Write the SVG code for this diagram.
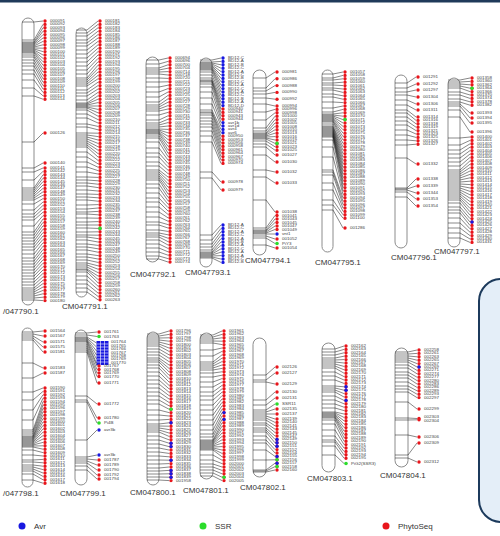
<svg xmlns="http://www.w3.org/2000/svg" width="500" height="536" viewBox="0 0 500 536">
<style>
.bar{fill:#fff;stroke:#8c8c8c;stroke-width:1}
.cn{fill:none;stroke:#111;stroke-width:.5}
.dr,.db,.dg{stroke-width:3.4;stroke-linecap:round;stroke-dasharray:0 3.4}
.dr{stroke:#e8151b}.db{stroke:#1818e0}.dg{stroke:#2bdc2b}
.r{fill:#e8151b}.b{fill:#1818e0}.g{fill:#2bdc2b}
.t{font-family:"Liberation Sans",Arial,sans-serif;font-size:3px;fill:#444}
.lb{font-family:"Liberation Sans",Arial,sans-serif;font-size:8px;fill:#333}
.lg{font-family:"Liberation Sans",Arial,sans-serif;font-size:8px;fill:#333}
</style>
<rect x="0" y="0" width="500" height="2.5" fill="#1f3a5a"/>
<rect x="479" y="279" width="45" height="243" rx="22" fill="#e4eef8" stroke="#1c3a5c" stroke-width="2"/>

<g id="c1">
<rect class="bar" x="22" y="18" width="12" height="287" rx="6"/>
<line class="dr" x1="45" y1="21" x2="45" y2="99.3"/>
<circle class="r" cx="45" cy="133" r="1.7"/><circle class="r" cx="45" cy="163" r="1.7"/>
<line class="dr" x1="45" y1="168" x2="45" y2="300.7"/>
<text class="t" transform="translate(50 0) scale(1.5 1)"><tspan x="0" y="22.1">000091</tspan><tspan x="0" dy="3.4">000092</tspan><tspan x="0" dy="3.4">000093</tspan><tspan x="0" dy="3.4">000094</tspan><tspan x="0" dy="3.4">000095</tspan><tspan x="0" dy="3.4">000096</tspan><tspan x="0" dy="3.4">000097</tspan><tspan x="0" dy="3.4">000098</tspan><tspan x="0" dy="3.4">000099</tspan><tspan x="0" dy="3.4">000100</tspan><tspan x="0" dy="3.4">000101</tspan><tspan x="0" dy="3.4">000102</tspan><tspan x="0" dy="3.4">000103</tspan><tspan x="0" dy="3.4">000104</tspan><tspan x="0" dy="3.4">000105</tspan><tspan x="0" dy="3.4">000106</tspan><tspan x="0" dy="3.4">000107</tspan><tspan x="0" dy="3.4">000108</tspan><tspan x="0" dy="3.4">000109</tspan><tspan x="0" dy="3.4">000110</tspan><tspan x="0" dy="3.4">000111</tspan><tspan x="0" dy="3.4">000112</tspan><tspan x="0" dy="3.4">000113</tspan><tspan x="0" dy="3.4">000114</tspan>
<tspan x="0" y="134.1">000126</tspan><tspan x="0" y="164.1">000140</tspan>
<tspan x="0" y="169.1">000141</tspan><tspan x="0" dy="3.4">000142</tspan><tspan x="0" dy="3.4">000143</tspan><tspan x="0" dy="3.4">000144</tspan><tspan x="0" dy="3.4">000145</tspan><tspan x="0" dy="3.4">000146</tspan><tspan x="0" dy="3.4">000147</tspan><tspan x="0" dy="3.4">000148</tspan><tspan x="0" dy="3.4">000149</tspan><tspan x="0" dy="3.4">000150</tspan><tspan x="0" dy="3.4">000151</tspan><tspan x="0" dy="3.4">000152</tspan><tspan x="0" dy="3.4">000153</tspan><tspan x="0" dy="3.4">000154</tspan><tspan x="0" dy="3.4">000155</tspan><tspan x="0" dy="3.4">000156</tspan><tspan x="0" dy="3.4">000157</tspan><tspan x="0" dy="3.4">000158</tspan><tspan x="0" dy="3.4">000159</tspan><tspan x="0" dy="3.4">000160</tspan><tspan x="0" dy="3.4">000161</tspan><tspan x="0" dy="3.4">000162</tspan><tspan x="0" dy="3.4">000163</tspan><tspan x="0" dy="3.4">000164</tspan><tspan x="0" dy="3.4">000165</tspan><tspan x="0" dy="3.4">000166</tspan><tspan x="0" dy="3.4">000167</tspan><tspan x="0" dy="3.4">000168</tspan><tspan x="0" dy="3.4">000169</tspan><tspan x="0" dy="3.4">000170</tspan><tspan x="0" dy="3.4">000171</tspan><tspan x="0" dy="3.4">000172</tspan><tspan x="0" dy="3.4">000173</tspan><tspan x="0" dy="3.4">000174</tspan><tspan x="0" dy="3.4">000175</tspan><tspan x="0" dy="3.4">000176</tspan><tspan x="0" dy="3.4">000177</tspan><tspan x="0" dy="3.4">000178</tspan><tspan x="0" dy="3.4">000179</tspan><tspan x="0" dy="3.4">000180</tspan></text>
<text class="lb" x="3" y="314">/047790.1</text>
</g>

<g id="c2">
<rect class="bar" x="76" y="28" width="11" height="269" rx="5.5"/>
<line class="dr" x1="100" y1="21" x2="100" y2="299.9"/>
<circle class="g" cx="100" cy="228.4" r="1.8"/>
<text class="t" transform="translate(105 0) scale(1.5 1)"><tspan x="0" y="22.1">000181</tspan><tspan x="0" dy="3.4">000182</tspan><tspan x="0" dy="3.4">000183</tspan><tspan x="0" dy="3.4">000184</tspan><tspan x="0" dy="3.4">000185</tspan><tspan x="0" dy="3.4">000186</tspan><tspan x="0" dy="3.4">000187</tspan><tspan x="0" dy="3.4">000188</tspan><tspan x="0" dy="3.4">000189</tspan><tspan x="0" dy="3.4">000190</tspan><tspan x="0" dy="3.4">000191</tspan><tspan x="0" dy="3.4">000192</tspan><tspan x="0" dy="3.4">000193</tspan><tspan x="0" dy="3.4">000194</tspan><tspan x="0" dy="3.4">000195</tspan><tspan x="0" dy="3.4">000196</tspan><tspan x="0" dy="3.4">000197</tspan><tspan x="0" dy="3.4">000198</tspan><tspan x="0" dy="3.4">000199</tspan><tspan x="0" dy="3.4">000200</tspan><tspan x="0" dy="3.4">000201</tspan><tspan x="0" dy="3.4">000202</tspan><tspan x="0" dy="3.4">000203</tspan><tspan x="0" dy="3.4">000204</tspan><tspan x="0" dy="3.4">000205</tspan><tspan x="0" dy="3.4">000206</tspan><tspan x="0" dy="3.4">000207</tspan><tspan x="0" dy="3.4">000208</tspan><tspan x="0" dy="3.4">000209</tspan><tspan x="0" dy="3.4">000210</tspan><tspan x="0" dy="3.4">000211</tspan><tspan x="0" dy="3.4">000212</tspan><tspan x="0" dy="3.4">000213</tspan><tspan x="0" dy="3.4">000214</tspan><tspan x="0" dy="3.4">000215</tspan><tspan x="0" dy="3.4">000216</tspan><tspan x="0" dy="3.4">000217</tspan><tspan x="0" dy="3.4">000218</tspan><tspan x="0" dy="3.4">000219</tspan><tspan x="0" dy="3.4">000220</tspan><tspan x="0" dy="3.4">000221</tspan><tspan x="0" dy="3.4">000222</tspan><tspan x="0" dy="3.4">000223</tspan><tspan x="0" dy="3.4">000224</tspan><tspan x="0" dy="3.4">000225</tspan><tspan x="0" dy="3.4">000226</tspan><tspan x="0" dy="3.4">000227</tspan><tspan x="0" dy="3.4">000228</tspan><tspan x="0" dy="3.4">000229</tspan><tspan x="0" dy="3.4">000230</tspan><tspan x="0" dy="3.4">000231</tspan><tspan x="0" dy="3.4">000232</tspan><tspan x="0" dy="3.4">000233</tspan><tspan x="0" dy="3.4">000234</tspan><tspan x="0" dy="3.4">000235</tspan><tspan x="0" dy="3.4">000236</tspan><tspan x="0" dy="3.4">000237</tspan><tspan x="0" dy="3.4">000238</tspan><tspan x="0" dy="3.4">000239</tspan><tspan x="0" dy="3.4">000240</tspan><tspan x="0" dy="3.4">000241</tspan><tspan x="0" dy="3.4">000242</tspan><tspan x="0" dy="3.4">000243</tspan><tspan x="0" dy="3.4">000244</tspan><tspan x="0" dy="3.4">000245</tspan><tspan x="0" dy="3.4">000246</tspan><tspan x="0" dy="3.4">000247</tspan><tspan x="0" dy="3.4">000248</tspan><tspan x="0" dy="3.4">000249</tspan><tspan x="0" dy="3.4">000250</tspan><tspan x="0" dy="3.4">000251</tspan><tspan x="0" dy="3.4">000252</tspan><tspan x="0" dy="3.4">000253</tspan><tspan x="0" dy="3.4">000254</tspan><tspan x="0" dy="3.4">000255</tspan><tspan x="0" dy="3.4">000256</tspan><tspan x="0" dy="3.4">000257</tspan><tspan x="0" dy="3.4">000258</tspan><tspan x="0" dy="3.4">000259</tspan><tspan x="0" dy="3.4">000260</tspan><tspan x="0" dy="3.4">000261</tspan><tspan x="0" dy="3.4">000262</tspan><tspan x="0" dy="3.4">000263</tspan></text>
<text class="lb" x="62" y="309">CM047791.1</text>
</g>

<g id="c3">
<rect class="bar" x="146" y="57" width="13" height="205" rx="6.5"/>
<line class="dr" x1="170" y1="58" x2="170" y2="262.1"/>
<text class="t" transform="translate(175 0) scale(1.5 1)"><tspan x="0" y="59.1">000694</tspan><tspan x="0" dy="3.4">000696</tspan><tspan x="0" dy="3.4">000700</tspan><tspan x="0" dy="3.4">000704</tspan><tspan x="0" dy="3.4">000714</tspan><tspan x="0" dy="3.4">000718</tspan><tspan x="0" dy="3.4">000720</tspan><tspan x="0" dy="3.4">000721</tspan><tspan x="0" dy="3.4">000722</tspan><tspan x="0" dy="3.4">000723</tspan><tspan x="0" dy="3.4">000724</tspan><tspan x="0" dy="3.4">000725</tspan><tspan x="0" dy="3.4">000726</tspan><tspan x="0" dy="3.4">000727</tspan><tspan x="0" dy="3.4">000728</tspan><tspan x="0" dy="3.4">000729</tspan><tspan x="0" dy="3.4">000730</tspan><tspan x="0" dy="3.4">000731</tspan><tspan x="0" dy="3.4">000732</tspan><tspan x="0" dy="3.4">000733</tspan><tspan x="0" dy="3.4">000734</tspan><tspan x="0" dy="3.4">000735</tspan><tspan x="0" dy="3.4">000736</tspan><tspan x="0" dy="3.4">000737</tspan><tspan x="0" dy="3.4">000738</tspan><tspan x="0" dy="3.4">000739</tspan><tspan x="0" dy="3.4">000740</tspan><tspan x="0" dy="3.4">000741</tspan><tspan x="0" dy="3.4">000742</tspan><tspan x="0" dy="3.4">000743</tspan><tspan x="0" dy="3.4">000744</tspan><tspan x="0" dy="3.4">000745</tspan><tspan x="0" dy="3.4">000746</tspan><tspan x="0" dy="3.4">000747</tspan><tspan x="0" dy="3.4">000748</tspan><tspan x="0" dy="3.4">000749</tspan><tspan x="0" dy="3.4">000750</tspan><tspan x="0" dy="3.4">000751</tspan><tspan x="0" dy="3.4">000752</tspan><tspan x="0" dy="3.4">000753</tspan><tspan x="0" dy="3.4">000754</tspan><tspan x="0" dy="3.4">000755</tspan><tspan x="0" dy="3.4">000756</tspan><tspan x="0" dy="3.4">000757</tspan><tspan x="0" dy="3.4">000758</tspan><tspan x="0" dy="3.4">000759</tspan><tspan x="0" dy="3.4">000760</tspan><tspan x="0" dy="3.4">000761</tspan><tspan x="0" dy="3.4">000762</tspan><tspan x="0" dy="3.4">000763</tspan><tspan x="0" dy="3.4">000764</tspan><tspan x="0" dy="3.4">000765</tspan><tspan x="0" dy="3.4">000766</tspan><tspan x="0" dy="3.4">000767</tspan><tspan x="0" dy="3.4">000768</tspan><tspan x="0" dy="3.4">000769</tspan><tspan x="0" dy="3.4">000770</tspan><tspan x="0" dy="3.4">000771</tspan><tspan x="0" dy="3.4">000772</tspan><tspan x="0" dy="3.4">000773</tspan><tspan x="0" dy="3.4">000774</tspan></text>
<text class="lb" x="130" y="277">CM047792.1</text>
</g>

<g id="c4">
<rect class="bar" x="200" y="58" width="12" height="209" rx="6"/>
<line class="db" x1="223" y1="58" x2="223" y2="105.7"/>
<line class="dr" x1="223" y1="109" x2="223" y2="119.3"/>
<line class="db" x1="223" y1="122.6" x2="223" y2="132.9"/>
<line class="dr" x1="223" y1="136.2" x2="223" y2="163.5"/>
<circle class="r" cx="223" cy="182" r="1.7"/><circle class="r" cx="223" cy="190" r="1.7"/>
<line class="db" x1="223" y1="225" x2="223" y2="262.5"/>
<text class="t" transform="translate(228 0) scale(1.5 1)"><tspan x="0" y="59.1">BD12-C</tspan><tspan x="0" dy="3.4">BD12-A</tspan><tspan x="0" dy="3.4">BD12-B</tspan><tspan x="0" dy="3.4">BD12-C</tspan><tspan x="0" dy="3.4">BD12-A</tspan><tspan x="0" dy="3.4">BD12-C</tspan><tspan x="0" dy="3.4">BD12-B</tspan><tspan x="0" dy="3.4">BD12-C</tspan><tspan x="0" dy="3.4">BD12-A</tspan><tspan x="0" dy="3.4">BD12-C</tspan><tspan x="0" dy="3.4">BD12-A</tspan><tspan x="0" dy="3.4">BD12-C</tspan><tspan x="0" dy="3.4">BD12-B</tspan><tspan x="0" dy="3.4">BD12-A</tspan><tspan x="0" dy="3.4">BD12-D</tspan><tspan x="0" dy="3.4">000940</tspan><tspan x="0" dy="3.4">000941</tspan><tspan x="0" dy="3.4">000943</tspan><tspan x="0" dy="3.4">000944</tspan><tspan x="0" dy="3.4">avr1b</tspan><tspan x="0" dy="3.4">avr1d</tspan><tspan x="0" dy="3.4">avr4</tspan><tspan x="0" dy="3.4">avr6</tspan><tspan x="0" dy="3.4">000950</tspan><tspan x="0" dy="3.4">000953</tspan><tspan x="0" dy="3.4">000956</tspan><tspan x="0" dy="3.4">000958</tspan><tspan x="0" dy="3.4">000961</tspan><tspan x="0" dy="3.4">000964</tspan><tspan x="0" dy="3.4">000967</tspan><tspan x="0" dy="3.4">000970</tspan><tspan x="0" dy="3.4">000974</tspan>
<tspan x="0" y="183.1">000978</tspan><tspan x="0" y="191.1">000979</tspan>
<tspan x="0" y="226.1">BD12-A</tspan><tspan x="0" dy="3.4">BD12-C</tspan><tspan x="0" dy="3.4">BD12-A</tspan><tspan x="0" dy="3.4">BD12-C</tspan><tspan x="0" dy="3.4">BD12-A</tspan><tspan x="0" dy="3.4">BD12-B</tspan><tspan x="0" dy="3.4">BD12-A</tspan><tspan x="0" dy="3.4">BD12-C</tspan><tspan x="0" dy="3.4">BD12-A</tspan><tspan x="0" dy="3.4">BD12-A</tspan><tspan x="0" dy="3.4">BD12-C</tspan><tspan x="0" dy="3.4">BD12-B</tspan></text>
<text class="lb" x="185" y="275">CM047793.1</text>
</g>

<g id="c5">
<rect class="bar" x="253" y="70" width="13" height="185" rx="6.5"/>
<circle class="r" cx="277" cy="72" r="1.7"/><circle class="r" cx="277" cy="78.8" r="1.7"/><circle class="r" cx="277" cy="85.6" r="1.7"/><circle class="r" cx="277" cy="92.4" r="1.7"/><circle class="r" cx="277" cy="99.2" r="1.7"/>
<line class="dr" x1="277" y1="106" x2="277" y2="150.3"/>
<circle class="g" cx="277" cy="143.4" r="1.8"/>
<circle class="r" cx="277" cy="155" r="1.7"/><circle class="r" cx="277" cy="162" r="1.7"/><circle class="r" cx="277" cy="172" r="1.7"/><circle class="r" cx="277" cy="183" r="1.7"/>
<circle class="r" cx="277" cy="212" r="1.7"/><circle class="r" cx="277" cy="215.5" r="1.7"/><circle class="r" cx="277" cy="219" r="1.7"/><circle class="r" cx="277" cy="222.5" r="1.7"/><circle class="r" cx="277" cy="226" r="1.7"/><circle class="r" cx="277" cy="229.5" r="1.7"/><circle class="b" cx="277" cy="234" r="1.7"/><circle class="r" cx="277" cy="239" r="1.7"/><circle class="g" cx="277" cy="243.5" r="1.8"/><circle class="r" cx="277" cy="248" r="1.7"/>
<text class="t" transform="translate(282 0) scale(1.5 1)"><tspan x="0" y="73.1">000981</tspan><tspan x="0" y="79.9">000986</tspan><tspan x="0" y="86.7">000988</tspan><tspan x="0" y="93.5">000990</tspan><tspan x="0" y="100.3">000992</tspan>
<tspan x="0" y="107.1">000994</tspan><tspan x="0" dy="3.4">000996</tspan><tspan x="0" dy="3.4">000998</tspan><tspan x="0" dy="3.4">001000</tspan><tspan x="0" dy="3.4">001002</tspan><tspan x="0" dy="3.4">001005</tspan><tspan x="0" dy="3.4">001008</tspan><tspan x="0" dy="3.4">001010</tspan><tspan x="0" dy="3.4">001013</tspan><tspan x="0" dy="3.4">001016</tspan><tspan x="0" dy="3.4">001019</tspan><tspan x="0" dy="3.4">001021</tspan><tspan x="0" dy="3.4">001023</tspan><tspan x="0" dy="3.4">001025</tspan>
<tspan x="0" y="156.1">001027</tspan><tspan x="0" y="163.1">001030</tspan><tspan x="0" y="173.1">001032</tspan><tspan x="0" y="184.1">001033</tspan>
<tspan x="0" y="213.1">001038</tspan><tspan x="0" y="216.6">001041</tspan><tspan x="0" y="220.1">001043</tspan><tspan x="0" y="223.6">001045</tspan><tspan x="0" y="227.1">001047</tspan><tspan x="0" y="230.6">001049</tspan><tspan x="0" y="235.1">vnt1</tspan><tspan x="0" y="240.1">001052</tspan><tspan x="0" y="244.6">PiY3</tspan><tspan x="0" y="249.1">001054</tspan></text>
<text class="lb" x="245" y="263">CM047794.1</text>
</g>

<g id="c6">
<rect class="bar" x="322" y="70" width="11" height="182" rx="5.5"/>
<line class="dr" x1="345" y1="72" x2="345" y2="218.3"/>
<circle class="g" cx="345" cy="119.6" r="1.8"/>
<circle class="r" cx="345" cy="228" r="1.7"/>
<text class="t" transform="translate(350 0) scale(1.5 1)"><tspan x="0" y="73.1">001057</tspan><tspan x="0" dy="3.4">001058</tspan><tspan x="0" dy="3.4">001059</tspan><tspan x="0" dy="3.4">001060</tspan><tspan x="0" dy="3.4">001061</tspan><tspan x="0" dy="3.4">001062</tspan><tspan x="0" dy="3.4">001063</tspan><tspan x="0" dy="3.4">001064</tspan><tspan x="0" dy="3.4">001065</tspan><tspan x="0" dy="3.4">001066</tspan><tspan x="0" dy="3.4">001067</tspan><tspan x="0" dy="3.4">001068</tspan><tspan x="0" dy="3.4">001069</tspan><tspan x="0" dy="3.4">001070</tspan><tspan x="0" dy="3.4">001071</tspan><tspan x="0" dy="3.4">001072</tspan><tspan x="0" dy="3.4">001073</tspan><tspan x="0" dy="3.4">001074</tspan><tspan x="0" dy="3.4">001075</tspan><tspan x="0" dy="3.4">001076</tspan><tspan x="0" dy="3.4">001077</tspan><tspan x="0" dy="3.4">001078</tspan><tspan x="0" dy="3.4">001079</tspan><tspan x="0" dy="3.4">001080</tspan><tspan x="0" dy="3.4">001081</tspan><tspan x="0" dy="3.4">001082</tspan><tspan x="0" dy="3.4">001083</tspan><tspan x="0" dy="3.4">001084</tspan><tspan x="0" dy="3.4">001085</tspan><tspan x="0" dy="3.4">001086</tspan><tspan x="0" dy="3.4">001087</tspan><tspan x="0" dy="3.4">001088</tspan><tspan x="0" dy="3.4">001089</tspan><tspan x="0" dy="3.4">001090</tspan><tspan x="0" dy="3.4">001091</tspan><tspan x="0" dy="3.4">001092</tspan><tspan x="0" dy="3.4">001093</tspan><tspan x="0" dy="3.4">001094</tspan><tspan x="0" dy="3.4">001095</tspan><tspan x="0" dy="3.4">001096</tspan><tspan x="0" dy="3.4">001097</tspan><tspan x="0" dy="3.4">001098</tspan><tspan x="0" dy="3.4">001099</tspan><tspan x="0" dy="3.4">001100</tspan><tspan x="0" y="229.1">001286</tspan></text>
<text class="lb" x="315" y="265">CM047795.1</text>
</g>

<g id="c7">
<rect class="bar" x="395" y="75" width="12" height="173" rx="6"/>
<circle class="r" cx="418" cy="77" r="1.7"/><circle class="r" cx="418" cy="84" r="1.7"/><circle class="r" cx="418" cy="90" r="1.7"/><circle class="r" cx="418" cy="97" r="1.7"/><circle class="r" cx="418" cy="104" r="1.7"/><circle class="r" cx="418" cy="110" r="1.7"/><circle class="r" cx="418" cy="117" r="1.7"/>
<line class="dr" x1="418" y1="120.4" x2="418" y2="144.3"/>
<circle class="r" cx="418" cy="164" r="1.7"/><circle class="r" cx="418" cy="179" r="1.7"/><circle class="r" cx="418" cy="186" r="1.7"/><circle class="r" cx="418" cy="193" r="1.7"/><circle class="r" cx="418" cy="199" r="1.7"/><circle class="r" cx="418" cy="206" r="1.7"/>
<text class="t" transform="translate(423 0) scale(1.5 1)"><tspan x="0" y="78.1">001291</tspan><tspan x="0" y="85.1">001292</tspan><tspan x="0" y="91.1">001297</tspan><tspan x="0" y="98.1">001304</tspan><tspan x="0" y="105.1">001306</tspan><tspan x="0" y="111.1">001311</tspan><tspan x="0" y="118.1">001314</tspan>
<tspan x="0" y="121.5">001316</tspan><tspan x="0" dy="3.4">001318</tspan><tspan x="0" dy="3.4">001319</tspan><tspan x="0" dy="3.4">001321</tspan><tspan x="0" dy="3.4">001323</tspan><tspan x="0" dy="3.4">001325</tspan><tspan x="0" dy="3.4">001326</tspan><tspan x="0" dy="3.4">001327</tspan>
<tspan x="0" y="165.1">001332</tspan><tspan x="0" y="180.1">001338</tspan><tspan x="0" y="187.1">001339</tspan><tspan x="0" y="194.1">001344</tspan><tspan x="0" y="200.1">001353</tspan><tspan x="0" y="207.1">001354</tspan></text>
<text class="lb" x="391" y="260">CM047796.1</text>
</g>

<g id="c8">
<rect class="bar" x="448" y="78" width="12" height="169" rx="6"/>
<line class="dr" x1="472" y1="78" x2="472" y2="105.3"/>
<circle class="g" cx="472" cy="88.2" r="1.8"/>
<circle class="r" cx="472" cy="113" r="1.7"/><circle class="r" cx="472" cy="118" r="1.7"/><circle class="r" cx="472" cy="123" r="1.7"/><circle class="r" cx="472" cy="132" r="1.7"/>
<line class="dr" x1="472" y1="137" x2="472" y2="242.5"/>
<circle class="b" cx="472" cy="222" r="1.7"/>
<text class="t" transform="translate(477 0) scale(1.5 1)"><tspan x="0" y="79.1">001358</tspan><tspan x="0" dy="3.4">001360</tspan><tspan x="0" dy="3.4">001362</tspan><tspan x="0" dy="3.4">001364</tspan><tspan x="0" dy="3.4">001366</tspan><tspan x="0" dy="3.4">001370</tspan><tspan x="0" dy="3.4">001374</tspan><tspan x="0" dy="3.4">001378</tspan><tspan x="0" dy="3.4">001382</tspan>
<tspan x="0" y="114.1">001393</tspan><tspan x="0" y="119.1">001394</tspan><tspan x="0" y="124.1">001395</tspan><tspan x="0" y="133.1">001396</tspan>
<tspan x="0" y="138.1">001400</tspan><tspan x="0" dy="3.4">001401</tspan><tspan x="0" dy="3.4">001402</tspan><tspan x="0" dy="3.4">001403</tspan><tspan x="0" dy="3.4">001404</tspan><tspan x="0" dy="3.4">001405</tspan><tspan x="0" dy="3.4">001406</tspan><tspan x="0" dy="3.4">001407</tspan><tspan x="0" dy="3.4">001408</tspan><tspan x="0" dy="3.4">001409</tspan><tspan x="0" dy="3.4">001410</tspan><tspan x="0" dy="3.4">001411</tspan><tspan x="0" dy="3.4">001412</tspan><tspan x="0" dy="3.4">001413</tspan><tspan x="0" dy="3.4">001414</tspan><tspan x="0" dy="3.4">001415</tspan><tspan x="0" dy="3.4">001416</tspan><tspan x="0" dy="3.4">001417</tspan><tspan x="0" dy="3.4">001418</tspan><tspan x="0" dy="3.4">001419</tspan><tspan x="0" dy="3.4">001420</tspan><tspan x="0" dy="3.4">001421</tspan><tspan x="0" dy="3.4">001422</tspan><tspan x="0" dy="3.4">001423</tspan><tspan x="0" dy="3.4">001424</tspan><tspan x="0" dy="3.4">001425</tspan><tspan x="0" dy="3.4">001426</tspan><tspan x="0" dy="3.4">001427</tspan><tspan x="0" dy="3.4">001428</tspan><tspan x="0" dy="3.4">001429</tspan><tspan x="0" dy="3.4">001430</tspan><tspan x="0" dy="3.4">001431</tspan></text>
<text class="lb" x="434" y="254">CM047797.1</text>
</g>

<g id="c9">
<rect class="bar" x="22" y="328" width="11" height="159" rx="5.5"/>
<circle class="r" cx="45" cy="331" r="1.7"/><circle class="r" cx="45" cy="336" r="1.7"/><circle class="r" cx="45" cy="342" r="1.7"/><circle class="r" cx="45" cy="347" r="1.7"/><circle class="r" cx="45" cy="352" r="1.7"/><circle class="r" cx="45" cy="368" r="1.7"/><circle class="r" cx="45" cy="373" r="1.7"/>
<line class="dr" x1="45" y1="388" x2="45" y2="483.3"/>
<text class="t" transform="translate(50 0) scale(1.5 1)"><tspan x="0" y="332.1">001564</tspan><tspan x="0" y="337.1">001567</tspan><tspan x="0" y="343.1">001571</tspan><tspan x="0" y="348.1">001575</tspan><tspan x="0" y="353.1">001581</tspan><tspan x="0" y="369.1">001583</tspan><tspan x="0" y="374.1">001587</tspan>
<tspan x="0" y="389.1">001590</tspan><tspan x="0" dy="3.4">001591</tspan><tspan x="0" dy="3.4">001592</tspan><tspan x="0" dy="3.4">001593</tspan><tspan x="0" dy="3.4">001594</tspan><tspan x="0" dy="3.4">001595</tspan><tspan x="0" dy="3.4">001596</tspan><tspan x="0" dy="3.4">001597</tspan><tspan x="0" dy="3.4">001598</tspan><tspan x="0" dy="3.4">001599</tspan><tspan x="0" dy="3.4">001600</tspan><tspan x="0" dy="3.4">001601</tspan><tspan x="0" dy="3.4">001602</tspan><tspan x="0" dy="3.4">001603</tspan><tspan x="0" dy="3.4">001604</tspan><tspan x="0" dy="3.4">001605</tspan><tspan x="0" dy="3.4">001606</tspan><tspan x="0" dy="3.4">001607</tspan><tspan x="0" dy="3.4">001608</tspan><tspan x="0" dy="3.4">001609</tspan><tspan x="0" dy="3.4">001610</tspan><tspan x="0" dy="3.4">001611</tspan><tspan x="0" dy="3.4">001612</tspan><tspan x="0" dy="3.4">001613</tspan><tspan x="0" dy="3.4">001614</tspan><tspan x="0" dy="3.4">001615</tspan><tspan x="0" dy="3.4">001616</tspan><tspan x="0" dy="3.4">001617</tspan><tspan x="0" dy="3.4">001618</tspan></text>
<text class="lb" x="3" y="496">/047798.1</text>
</g>

<g id="c10">
<rect class="bar" x="75" y="330" width="12" height="155" rx="6"/>
<circle class="r" cx="99" cy="332" r="1.7"/><circle class="g" cx="99" cy="336.5" r="1.8"/>
<rect x="96.5" y="341" width="12" height="24" fill="#1818e0"/>
<path d="M100.5 341V365M104.5 341V365M96.5 344H108.5M96.5 347H108.5M96.5 350H108.5M96.5 353H108.5M96.5 356H108.5M96.5 359H108.5M96.5 362H108.5" stroke="#fff" stroke-width=".6"/>
<circle class="r" cx="99" cy="366" r="1.7"/><circle class="r" cx="99" cy="369.5" r="1.7"/><circle class="r" cx="99" cy="373" r="1.7"/><circle class="r" cx="99" cy="376.5" r="1.7"/><circle class="r" cx="99" cy="383" r="1.7"/><circle class="r" cx="99" cy="404" r="1.7"/><circle class="r" cx="99" cy="418" r="1.7"/><circle class="g" cx="99" cy="423" r="1.8"/><circle class="b" cx="99" cy="430" r="1.7"/><circle class="b" cx="99" cy="455" r="1.7"/><circle class="r" cx="99" cy="460" r="1.7"/><circle class="r" cx="99" cy="465" r="1.7"/><circle class="r" cx="99" cy="470" r="1.7"/><circle class="r" cx="99" cy="475" r="1.7"/><circle class="r" cx="99" cy="479" r="1.7"/>
<text class="t" transform="translate(104 0) scale(1.5 1)"><tspan x="0" y="333.1">001761</tspan><tspan x="0" y="337.6">001763</tspan><tspan x="4.7" y="343.5">001764</tspan><tspan x="4.7" dy="3.4">001765</tspan><tspan x="4.7" dy="3.4">001766</tspan><tspan x="4.7" dy="3.4">001767</tspan><tspan x="4.7" dy="3.4">001768</tspan><tspan x="4.7" dy="3.4">001769</tspan><tspan x="4.7" dy="3.4">001770</tspan>
<tspan x="0" y="367.1">001767</tspan><tspan x="0" y="370.6">001768</tspan><tspan x="0" y="374.1">001769</tspan><tspan x="0" y="377.6">001770</tspan><tspan x="0" y="384.1">001771</tspan><tspan x="0" y="405.1">001772</tspan><tspan x="0" y="419.1">001780</tspan><tspan x="0" y="424.1">Pi4B</tspan><tspan x="0" y="431.1">avr3b</tspan><tspan x="0" y="456.1">avr3b</tspan><tspan x="0" y="461.1">001787</tspan><tspan x="0" y="466.1">001789</tspan><tspan x="0" y="471.1">001790</tspan><tspan x="0" y="476.1">001792</tspan><tspan x="0" y="480.1">001794</tspan></text>
<text class="lb" x="60" y="496">CM047799.1</text>
</g>

<g id="c11">
<rect class="bar" x="147" y="332" width="12" height="153" rx="6"/>
<line class="dr" x1="171" y1="331" x2="171" y2="480.7"/>
<circle class="g" cx="171" cy="409.2" r="1.8"/><circle class="b" cx="171" cy="422.8" r="1.7"/><circle class="b" cx="171" cy="443.2" r="1.7"/><circle class="b" cx="171" cy="446.6" r="1.7"/><circle class="b" cx="171" cy="460.2" r="1.7"/><circle class="b" cx="171" cy="470.4" r="1.7"/><circle class="b" cx="171" cy="473.8" r="1.7"/><circle class="b" cx="171" cy="477.2" r="1.7"/>
<text class="t" transform="translate(176 0) scale(1.5 1)"><tspan x="0" y="332.1">001796</tspan><tspan x="0" dy="3.4">001797</tspan><tspan x="0" dy="3.4">001798</tspan><tspan x="0" dy="3.4">001799</tspan><tspan x="0" dy="3.4">001800</tspan><tspan x="0" dy="3.4">001801</tspan><tspan x="0" dy="3.4">001802</tspan><tspan x="0" dy="3.4">001803</tspan><tspan x="0" dy="3.4">001804</tspan><tspan x="0" dy="3.4">001805</tspan><tspan x="0" dy="3.4">001806</tspan><tspan x="0" dy="3.4">001807</tspan><tspan x="0" dy="3.4">001808</tspan><tspan x="0" dy="3.4">001809</tspan><tspan x="0" dy="3.4">001810</tspan><tspan x="0" dy="3.4">001811</tspan><tspan x="0" dy="3.4">001812</tspan><tspan x="0" dy="3.4">001813</tspan><tspan x="0" dy="3.4">001814</tspan><tspan x="0" dy="3.4">001815</tspan><tspan x="0" dy="3.4">001816</tspan><tspan x="0" dy="3.4">001817</tspan><tspan x="0" dy="3.4">001818</tspan><tspan x="0" dy="3.4">001819</tspan><tspan x="0" dy="3.4">001820</tspan><tspan x="0" dy="3.4">001821</tspan><tspan x="0" dy="3.4">001822</tspan><tspan x="0" dy="3.4">001823</tspan><tspan x="0" dy="3.4">001824</tspan><tspan x="0" dy="3.4">001825</tspan><tspan x="0" dy="3.4">001826</tspan><tspan x="0" dy="3.4">001827</tspan><tspan x="0" dy="3.4">001828</tspan><tspan x="0" dy="3.4">001829</tspan><tspan x="0" dy="3.4">001830</tspan><tspan x="0" dy="3.4">001831</tspan><tspan x="0" dy="3.4">001832</tspan><tspan x="0" dy="3.4">001833</tspan><tspan x="0" dy="3.4">001834</tspan><tspan x="0" dy="3.4">001835</tspan><tspan x="0" dy="3.4">001836</tspan><tspan x="0" dy="3.4">001837</tspan><tspan x="0" dy="3.4">001838</tspan><tspan x="0" dy="3.4">001839</tspan><tspan x="0" dy="3.4">001958</tspan></text>
<text class="lb" x="130" y="495">CM047800.1</text>
</g>

<g id="c12">
<rect class="bar" x="200" y="333" width="13" height="146" rx="6.5"/>
<line class="dr" x1="224" y1="331" x2="224" y2="480.7"/>
<circle class="b" cx="224" cy="412.6" r="1.7"/><circle class="b" cx="224" cy="419.4" r="1.7"/><circle class="g" cx="224" cy="477.2" r="1.8"/>
<text class="t" transform="translate(229 0) scale(1.5 1)"><tspan x="0" y="332.1">001961</tspan><tspan x="0" dy="3.4">001962</tspan><tspan x="0" dy="3.4">001963</tspan><tspan x="0" dy="3.4">001964</tspan><tspan x="0" dy="3.4">001965</tspan><tspan x="0" dy="3.4">001966</tspan><tspan x="0" dy="3.4">001967</tspan><tspan x="0" dy="3.4">001968</tspan><tspan x="0" dy="3.4">001969</tspan><tspan x="0" dy="3.4">001970</tspan><tspan x="0" dy="3.4">001971</tspan><tspan x="0" dy="3.4">001972</tspan><tspan x="0" dy="3.4">001973</tspan><tspan x="0" dy="3.4">001974</tspan><tspan x="0" dy="3.4">001975</tspan><tspan x="0" dy="3.4">001976</tspan><tspan x="0" dy="3.4">001977</tspan><tspan x="0" dy="3.4">001978</tspan><tspan x="0" dy="3.4">001979</tspan><tspan x="0" dy="3.4">001980</tspan><tspan x="0" dy="3.4">001981</tspan><tspan x="0" dy="3.4">001982</tspan><tspan x="0" dy="3.4">001983</tspan><tspan x="0" dy="3.4">001984</tspan><tspan x="0" dy="3.4">001985</tspan><tspan x="0" dy="3.4">001986</tspan><tspan x="0" dy="3.4">001987</tspan><tspan x="0" dy="3.4">001988</tspan><tspan x="0" dy="3.4">001989</tspan><tspan x="0" dy="3.4">001990</tspan><tspan x="0" dy="3.4">001991</tspan><tspan x="0" dy="3.4">001992</tspan><tspan x="0" dy="3.4">001993</tspan><tspan x="0" dy="3.4">001994</tspan><tspan x="0" dy="3.4">001995</tspan><tspan x="0" dy="3.4">001996</tspan><tspan x="0" dy="3.4">001997</tspan><tspan x="0" dy="3.4">001998</tspan><tspan x="0" dy="3.4">001999</tspan><tspan x="0" dy="3.4">002000</tspan><tspan x="0" dy="3.4">002001</tspan><tspan x="0" dy="3.4">002002</tspan><tspan x="0" dy="3.4">002003</tspan><tspan x="0" dy="3.4">002004</tspan><tspan x="0" dy="3.4">002005</tspan></text>
<text class="lb" x="183" y="493">CM047801.1</text>
</g>

<g id="c13">
<rect class="bar" x="253" y="338" width="13" height="139" rx="6.5"/>
<circle class="r" cx="277" cy="367" r="1.7"/><circle class="r" cx="277" cy="373" r="1.7"/><circle class="r" cx="277" cy="384" r="1.7"/><circle class="r" cx="277" cy="392" r="1.7"/><circle class="r" cx="277" cy="398" r="1.7"/><circle class="g" cx="277" cy="404" r="1.8"/><circle class="r" cx="277" cy="409" r="1.7"/><circle class="r" cx="277" cy="414" r="1.7"/>
<line class="dr" x1="277" y1="419" x2="277" y2="470.1"/>
<circle class="b" cx="277" cy="439.4" r="1.7"/><circle class="b" cx="277" cy="442.8" r="1.7"/><circle class="b" cx="277" cy="446.2" r="1.7"/><circle class="b" cx="277" cy="456.4" r="1.7"/><circle class="g" cx="277" cy="459.8" r="1.8"/><circle class="b" cx="277" cy="463.2" r="1.7"/><circle class="g" cx="277" cy="466.6" r="1.8"/>
<text class="t" transform="translate(282 0) scale(1.5 1)"><tspan x="0" y="368.1">002126</tspan><tspan x="0" y="374.1">002127</tspan><tspan x="0" y="385.1">002129</tspan><tspan x="0" y="393.1">002130</tspan><tspan x="0" y="399.1">002131</tspan><tspan x="0" y="405.1">SSR11</tspan><tspan x="0" y="410.1">002135</tspan><tspan x="0" y="415.1">002137</tspan>
<tspan x="0" y="420.1">002139</tspan><tspan x="0" dy="3.4">002140</tspan><tspan x="0" dy="3.4">002141</tspan><tspan x="0" dy="3.4">002143</tspan><tspan x="0" dy="3.4">002145</tspan><tspan x="0" dy="3.4">002147</tspan><tspan x="0" dy="3.4">002149</tspan><tspan x="0" dy="3.4">002150</tspan><tspan x="0" dy="3.4">002151</tspan><tspan x="0" dy="3.4">002152</tspan><tspan x="0" dy="3.4">002154</tspan><tspan x="0" dy="3.4">002155</tspan><tspan x="0" dy="3.4">002156</tspan><tspan x="0" dy="3.4">002157</tspan><tspan x="0" dy="3.4">002158</tspan><tspan x="0" dy="3.4">002160</tspan></text>
<text class="lb" x="240" y="490">CM047802.1</text>
</g>

<g id="c14">
<rect class="bar" x="322" y="343" width="13" height="129" rx="6.5"/>
<line class="dr" x1="346" y1="346" x2="346" y2="458.3"/>
<circle class="b" cx="346" cy="386.8" r="1.7"/><circle class="b" cx="346" cy="390.2" r="1.7"/><circle class="b" cx="346" cy="400.4" r="1.7"/><circle class="g" cx="346" cy="463.5" r="1.8"/>
<text class="t" transform="translate(351 0) scale(1.5 1)"><tspan x="0" y="347.1">002162</tspan><tspan x="0" dy="3.4">002163</tspan><tspan x="0" dy="3.4">002164</tspan><tspan x="0" dy="3.4">002165</tspan><tspan x="0" dy="3.4">002166</tspan><tspan x="0" dy="3.4">002167</tspan><tspan x="0" dy="3.4">002168</tspan><tspan x="0" dy="3.4">002169</tspan><tspan x="0" dy="3.4">002170</tspan><tspan x="0" dy="3.4">002171</tspan><tspan x="0" dy="3.4">002172</tspan><tspan x="0" dy="3.4">002173</tspan><tspan x="0" dy="3.4">002174</tspan><tspan x="0" dy="3.4">002175</tspan><tspan x="0" dy="3.4">002176</tspan><tspan x="0" dy="3.4">002177</tspan><tspan x="0" dy="3.4">002178</tspan><tspan x="0" dy="3.4">002179</tspan><tspan x="0" dy="3.4">002180</tspan><tspan x="0" dy="3.4">002181</tspan><tspan x="0" dy="3.4">002182</tspan><tspan x="0" dy="3.4">002183</tspan><tspan x="0" dy="3.4">002184</tspan><tspan x="0" dy="3.4">002185</tspan><tspan x="0" dy="3.4">002186</tspan><tspan x="0" dy="3.4">002187</tspan><tspan x="0" dy="3.4">002188</tspan><tspan x="0" dy="3.4">002189</tspan><tspan x="0" dy="3.4">002190</tspan><tspan x="0" dy="3.4">002191</tspan><tspan x="0" dy="3.4">002192</tspan><tspan x="0" dy="3.4">002193</tspan><tspan x="0" dy="3.4">002194</tspan><tspan x="0" dy="3.4">002195</tspan><tspan x="0" y="464.6">PiG2(SSR3)</tspan></text>
<text class="lb" x="307" y="481">CM047803.1</text>
</g>

<g id="c15">
<rect class="bar" x="395" y="348" width="13" height="119" rx="6.5"/>
<line class="dr" x1="419" y1="350" x2="419" y2="397.7"/>
<circle class="b" cx="419" cy="367" r="1.7"/>
<circle class="r" cx="419" cy="409" r="1.7"/><circle class="r" cx="419" cy="418.5" r="1.7"/><circle class="r" cx="419" cy="419.8" r="1.7"/><circle class="r" cx="419" cy="437" r="1.7"/><circle class="r" cx="419" cy="443" r="1.7"/><circle class="r" cx="419" cy="462" r="1.7"/>
<text class="t" transform="translate(424 0) scale(1.5 1)"><tspan x="0" y="351.1">002258</tspan><tspan x="0" dy="3.4">002261</tspan><tspan x="0" dy="3.4">002263</tspan><tspan x="0" dy="3.4">002265</tspan><tspan x="0" dy="3.4">002267</tspan><tspan x="0" dy="3.4">002269</tspan><tspan x="0" dy="3.4">002271</tspan><tspan x="0" dy="3.4">002274</tspan><tspan x="0" dy="3.4">002277</tspan><tspan x="0" dy="3.4">002280</tspan><tspan x="0" dy="3.4">002283</tspan><tspan x="0" dy="3.4">002286</tspan><tspan x="0" dy="3.4">002289</tspan><tspan x="0" dy="3.4">002293</tspan><tspan x="0" dy="3.4">002297</tspan>
<tspan x="0" y="410.1">002299</tspan><tspan x="0" y="418.4">002303</tspan><tspan x="0" y="421.8">002304</tspan><tspan x="0" y="438.1">002306</tspan><tspan x="0" y="444.1">002309</tspan><tspan x="0" y="463.1">002312</tspan></text>
<text class="lb" x="380" y="478">CM047804.1</text>
</g>

<g id="connectors">
<path class="cn" d="M22 22H34L43 21M22 40H34L43 24.4M22 42H34L43 27.8M22 43H34L43 31.2M22 44H34L43 34.6M22 45H34L43 38M22 46H34L43 41.4M22 47H34L43 44.8M22 48H34L43 48.2M22 49H34L43 51.6M22 50H34L43 55M22 51H34L43 58.4M22 52H34L43 61.8M22 53H34L43 65.2M22 55H34L43 68.6M22 57H34L43 72M22 60H34L43 75.4M22 63H34L43 78.8M22 66H34L43 82.2M22 70H34L43 85.6M22 74H34L43 89M22 80H34L43 92.4M22 88H34L43 95.8M22 96H34L43 99.2M22 142H34L43 133M22 168H34L43 163M22 172H34L43 168M22 180H34L43 171.4M22 188H34L43 174.8M22 190H34L43 178.2M22 192H34L43 181.6M22 194H34L43 185M22 196H34L43 188.4M22 198H34L43 191.8M22 200H34L43 195.2M22 204H34L43 198.6M22 210H34L43 202M22 214H34L43 205.4M22 217H34L43 208.8M22 220H34L43 212.2M22 226H34L43 215.6M22 232H34L43 219M22 235H34L43 222.4M22 238H34L43 225.8M22 241H34L43 229.2M22 244H34L43 232.6M22 247H34L43 236M22 250H34L43 239.4M22 254H34L43 242.8M22 258H34L43 246.2M22 261H34L43 249.6M22 264H34L43 253M22 267H34L43 256.4M22 270H34L43 259.8M22 273H34L43 263.2M22 276H34L43 266.6M22 279H34L43 270M22 282H34L43 273.4M22 285H34L43 276.8M22 288H34L43 280.2M22 290H34L43 283.6M22 292H34L43 287M22 294H34L43 290.4M22 296H34L43 293.8M22 298H34L43 297.2M22 300H34L43 300.6"/>
<path class="cn" d="M76 30H87L98 21M76 33H87L98 24.4M76 36H87L98 27.8M76 40H87L98 31.2M76 43H87L98 34.6M76 46H87L98 38M76 50H87L98 41.4M76 54H87L98 44.8M76 58H87L98 48.2M76 62H87L98 51.6M76 66H87L98 55M76 70H87L98 58.4M76 74H87L98 61.8M76 78H87L98 65.2M76 80H87L98 68.6M76 82H87L98 72M76 84H87L98 75.4M76 86H87L98 78.8M76 90H87L98 82.2M76 93H87L98 85.6M76 96H87L98 89M76 100H87L98 92.4M76 103H87L98 95.8M76 104H87L98 99.2M76 105H87L98 102.6M76 106H87L98 106M76 107H87L98 109.4M76 108H87L98 112.8M76 110H87L98 116.2M76 114H87L98 119.6M76 118H87L98 123M76 124H87L98 126.4M76 127H87L98 129.8M76 133H87L98 133.2M76 135H87L98 136.6M76 137H87L98 140M76 139H87L98 143.4M76 141H87L98 146.8M76 143H87L98 150.2M76 145H87L98 153.6M76 147H87L98 157M76 152H87L98 160.4M76 157H87L98 163.8M76 162H87L98 167.2M76 167H87L98 170.6M76 172H87L98 174M76 177H87L98 177.4M76 180H87L98 180.8M76 183H87L98 184.2M76 186H87L98 187.6M76 190H87L98 191M76 194H87L98 194.4M76 197H87L98 197.8M76 200H87L98 201.2M76 205H87L98 204.6M76 209H87L98 208M76 212H87L98 211.4M76 214H87L98 214.8M76 218H87L98 218.2M76 222H87L98 221.6M76 225H87L98 225M76 228H87L98 228.4M76 232H87L98 231.8M76 235H87L98 235.2M76 237H87L98 238.6M76 240H87L98 242M76 244H87L98 245.4M76 247H87L98 248.8M76 250H87L98 252.2M76 254H87L98 255.6M76 257H87L98 259M76 260H87L98 262.4M76 263H87L98 265.8M76 265H87L98 269.2M76 267H87L98 272.6M76 269H87L98 276M76 270H87L98 279.4M76 272H87L98 282.8M76 276H87L98 286.2M76 280H87L98 289.6M76 284H87L98 293M76 288H87L98 296.4M76 292H87L98 299.8"/>
<path class="cn" d="M146 60H159L168 58M146 64H159L168 61.4M146 68H159L168 64.8M146 70H159L168 68.2M146 72H159L168 71.6M146 74H159L168 75M146 78H159L168 78.4M146 82H159L168 81.8M146 87H159L168 85.2M146 92H159L168 88.6M146 97H159L168 92M146 102H159L168 95.4M146 105H159L168 98.8M146 107H159L168 102.2M146 109H159L168 105.6M146 111H159L168 109M146 115H159L168 112.4M146 120H159L168 115.8M146 123H159L168 119.2M146 125H159L168 122.6M146 127H159L168 126M146 129H159L168 129.4M146 130H159L168 132.8M146 131H159L168 136.2M146 132H159L168 139.6M146 133H159L168 143M146 134H159L168 146.4M146 136H159L168 149.8M146 138H159L168 153.2M146 142H159L168 156.6M146 148H159L168 160M146 153H159L168 163.4M146 157H159L168 166.8M146 162H159L168 170.2M146 166H159L168 173.6M146 170H159L168 177M146 172H159L168 180.4M146 174H159L168 183.8M146 176H159L168 187.2M146 178H159L168 190.6M146 180H159L168 194M146 184H159L168 197.4M146 188H159L168 200.8M146 193H159L168 204.2M146 198H159L168 207.6M146 202H159L168 211M146 207H159L168 214.4M146 212H159L168 217.8M146 217H159L168 221.2M146 222H159L168 224.6M146 225H159L168 228M146 230H159L168 231.4M146 233H159L168 234.8M146 235H159L168 238.2M146 237H159L168 241.6M146 240H159L168 245M146 244H159L168 248.4M146 248H159L168 251.8M146 252H159L168 255.2M146 256H159L168 258.6M146 259H159L168 262"/>
<path class="cn" d="M200 60H212L221 58M200 62H212L221 61.4M200 63H212L221 64.8M200 64H212L221 68.2M200 65H212L221 71.6M200 66H212L221 75M200 67H212L221 78.4M200 68H212L221 81.8M200 69H212L221 85.2M200 70H212L221 88.6M200 72H212L221 92M200 75H212L221 95.4M200 78H212L221 98.8M200 80H212L221 102.2M200 81H212L221 105.6M200 82H212L221 109M200 84H212L221 112.4M200 87H212L221 115.8M200 92H212L221 119.2M200 98H212L221 122.6M200 104H212L221 126M200 110H212L221 129.4M200 112H212L221 132.8M200 113H212L221 136.2M200 115H212L221 139.6M200 118H212L221 143M200 121H212L221 146.4M200 124H212L221 149.8M200 127H212L221 153.2M200 131H212L221 156.6M200 136H212L221 160M200 142H212L221 163.4M200 172H212L221 182M200 178H212L221 190M200 235H212L221 225M200 240H212L221 228.4M200 244H212L221 231.8M200 247H212L221 235.2M200 250H212L221 238.6M200 252H212L221 242M200 253H212L221 245.4M200 254H212L221 248.8M200 255H212L221 252.2M200 256H212L221 255.6M200 257H212L221 259M200 258H212L221 262.4"/>
<path class="cn" d="M253 78H266L275 72M253 88H266L275 78.8M253 91H266L275 85.6M253 94H266L275 92.4M253 98H266L275 99.2M253 104H266L275 106M253 112H266L275 109.4M253 120H266L275 112.8M253 128H266L275 116.2M253 131H266L275 119.6M253 133H266L275 123M253 134H266L275 126.4M253 135H266L275 129.8M253 136H266L275 133.2M253 137H266L275 136.6M253 138H266L275 140M253 139H266L275 143.4M253 141H266L275 146.8M253 144H266L275 150.2M253 147H266L275 155M253 155H266L275 162M253 170H266L275 172M253 177H266L275 183M253 200H266L275 212M253 228H266L275 215.5M253 230H266L275 219M253 231H266L275 222.5M253 232H266L275 226M253 233H266L275 229.5M253 234H266L275 234M253 236H266L275 239M253 238H266L275 243.5M253 245H266L275 248"/>
<path class="cn" d="M322 74H333L343 72M322 78H333L343 75.4M322 80H333L343 78.8M322 83H333L343 82.2M322 85H333L343 85.6M322 88H333L343 89M322 90H333L343 92.4M322 94H333L343 95.8M322 97H333L343 99.2M322 102H333L343 102.6M322 108H333L343 106M322 112H333L343 109.4M322 114H333L343 112.8M322 115H333L343 116.2M322 116H333L343 119.6M322 117H333L343 123M322 118H333L343 126.4M322 119H333L343 129.8M322 120H333L343 133.2M322 121H333L343 136.6M322 122H333L343 140M322 124H333L343 143.4M322 126H333L343 146.8M322 127H333L343 150.2M322 128H333L343 153.6M322 129H333L343 157M322 130H333L343 160.4M322 131H333L343 163.8M322 132H333L343 167.2M322 133H333L343 170.6M322 134H333L343 174M322 135H333L343 177.4M322 136H333L343 180.8M322 137H333L343 184.2M322 140H333L343 187.6M322 147H333L343 191M322 157H333L343 194.4M322 170H333L343 197.8M322 172H333L343 201.2M322 175H333L343 204.6M322 183H333L343 208M322 190H333L343 211.4M322 200H333L343 214.8M322 205H333L343 218.2M322 210H333L343 228"/>
<path class="cn" d="M395 83H407L416 77M395 88H407L416 84M395 92H407L416 90M395 95H407L416 97M395 100H407L416 104M395 105H407L416 110M395 110H407L416 117M395 113H407L416 120.4M395 117H407L416 123.8M395 121H407L416 127.2M395 125H407L416 130.6M395 130H407L416 134M395 135H407L416 137.4M395 140H407L416 140.8M395 145H407L416 144.2M395 158H407L416 164M395 188H407L416 179M395 189H407L416 186M395 190H407L416 193M395 192H407L416 199M395 197H407L416 206"/>
<path class="cn" d="M448 80H460L470 78M448 82H460L470 81.4M448 84H460L470 84.8M448 86H460L470 88.2M448 88H460L470 91.6M448 92H460L470 95M448 95H460L470 98.4M448 99H460L470 101.8M448 102H460L470 105.2M448 104H460L470 113M448 106H460L470 118M448 110H460L470 123M448 117H460L470 132M448 138H460L470 137M448 145H460L470 140.4M448 150H460L470 143.8M448 154H460L470 147.2M448 158H460L470 150.6M448 162H460L470 154M448 166H460L470 157.4M448 170H460L470 160.8M448 172H460L470 164.2M448 174H460L470 167.6M448 176H460L470 171M448 178H460L470 174.4M448 180H460L470 177.8M448 182H460L470 181.2M448 184H460L470 184.6M448 186H460L470 188M448 188H460L470 191.4M448 190H460L470 194.8M448 192H460L470 198.2M448 194H460L470 201.6M448 196H460L470 205M448 198H460L470 208.4M448 200H460L470 211.8M448 203H460L470 215.2M448 207H460L470 218.6M448 210H460L470 222M448 213H460L470 225.4M448 218H460L470 228.8M448 223H460L470 232.2M448 228H460L470 235.6M448 233H460L470 239M448 238H460L470 242.4"/>
<path class="cn" d="M22 332H33L43 331M22 334H33L43 336M22 336H33L43 342M22 338H33L43 347M22 340H33L43 352M22 363H33L43 368M22 378H33L43 373M22 392H33L43 388M22 400H33L43 391.4M22 410H33L43 394.8M22 420H33L43 398.2M22 430H33L43 401.6M22 432H33L43 405M22 434H33L43 408.4M22 436H33L43 411.8M22 437H33L43 415.2M22 438H33L43 418.6M22 439H33L43 422M22 440H33L43 425.4M22 441H33L43 428.8M22 442H33L43 432.2M22 443H33L43 435.6M22 444H33L43 439M22 445H33L43 442.4M22 446H33L43 445.8M22 447H33L43 449.2M22 450H33L43 452.6M22 455H33L43 456M22 460H33L43 459.4M22 462H33L43 462.8M22 465H33L43 466.2M22 467H33L43 469.6M22 469H33L43 473M22 471H33L43 476.4M22 474H33L43 479.8M22 480H33L43 483.2"/>
<path class="cn" d="M75 333H87L97 332M75 335H87L97 336.5M75 337H87L96.5 343M75 338H87L96.5 347M75 339H87L96.5 351M75 340H87L96.5 355M75 341H87L96.5 359M75 342H87L96.5 363M75 344H87L97 366M75 346H87L97 369.5M75 348H87L97 373M75 350H87L97 376.5M75 352H87L97 383M75 396H87L97 404M75 400H87L97 418M75 402H87L97 423M75 440H87L97 430M75 457H87L97 455M75 459H87L97 460M75 461H87L97 465M75 463H87L97 470M75 466H87L97 475M75 470H87L97 479"/>
<path class="cn" d="M147 334H159L169 331M147 336H159L169 334.4M147 338H159L169 337.8M147 340H159L169 341.2M147 342H159L169 344.6M147 344H159L169 348M147 346H159L169 351.4M147 349H159L169 354.8M147 352H159L169 358.2M147 355H159L169 361.6M147 358H159L169 365M147 360H159L169 368.4M147 362H159L169 371.8M147 365H159L169 375.2M147 368H159L169 378.6M147 372H159L169 382M147 376H159L169 385.4M147 380H159L169 388.8M147 384H159L169 392.2M147 388H159L169 395.6M147 392H159L169 399M147 396H159L169 402.4M147 400H159L169 405.8M147 404H159L169 409.2M147 410H159L169 412.6M147 415H159L169 416M147 420H159L169 419.4M147 424H159L169 422.8M147 426H159L169 426.2M147 428H159L169 429.6M147 430H159L169 433M147 432H159L169 436.4M147 436H159L169 439.8M147 440H159L169 443.2M147 444H159L169 446.6M147 448H159L169 450M147 452H159L169 453.4M147 456H159L169 456.8M147 460H159L169 460.2M147 464H159L169 463.6M147 468H159L169 467M147 471H159L169 470.4M147 474H159L169 473.8M147 477H159L169 477.2M147 480H159L169 480.6"/>
<path class="cn" d="M200 335H213L222 331M200 337H213L222 334.4M200 339H213L222 337.8M200 341H213L222 341.2M200 343H213L222 344.6M200 350H213L222 348M200 356H213L222 351.4M200 362H213L222 354.8M200 364H213L222 358.2M200 366H213L222 361.6M200 368H213L222 365M200 370H213L222 368.4M200 373H213L222 371.8M200 377H213L222 375.2M200 382H213L222 378.6M200 387H213L222 382M200 392H213L222 385.4M200 396H213L222 388.8M200 400H213L222 392.2M200 405H213L222 395.6M200 410H213L222 399M200 415H213L222 402.4M200 420H213L222 405.8M200 425H213L222 409.2M200 430H213L222 412.6M200 434H213L222 416M200 437H213L222 419.4M200 440H213L222 422.8M200 441H213L222 426.2M200 442H213L222 429.6M200 443H213L222 433M200 444H213L222 436.4M200 445H213L222 439.8M200 446H213L222 443.2M200 447H213L222 446.6M200 448H213L222 450M200 449H213L222 453.4M200 450H213L222 456.8M200 455H213L222 460.2M200 460H213L222 463.6M200 464H213L222 467M200 467H213L222 470.4M200 470H213L222 473.8M200 473H213L222 477.2M200 476H213L222 480.6"/>
<path class="cn" d="M253 375H266L275 367M253 380H266L275 373M253 382H266L275 384M253 400H266L275 392M253 405H266L275 398M253 410H266L275 404M253 412H266L275 409M253 414H266L275 414M253 416H266L275 419M253 418H266L275 422.4M253 420H266L275 425.8M253 423H266L275 429.2M253 425H266L275 432.6M253 428H266L275 436M253 430H266L275 439.4M253 432H266L275 442.8M253 436H266L275 446.2M253 440H266L275 449.6M253 443H266L275 453M253 450H266L275 456.4M253 460H266L275 459.8M253 470H266L275 463.2M253 471H266L275 466.6M253 472H266L275 470"/>
<path class="cn" d="M322 349H335L344 346M322 352H335L344 349.4M322 355H335L344 352.8M322 358H335L344 356.2M322 360H335L344 359.6M322 362H335L344 363M322 364H335L344 366.4M322 366H335L344 369.8M322 368H335L344 373.2M322 372H335L344 376.6M322 376H335L344 380M322 380H335L344 383.4M322 386H335L344 386.8M322 388H335L344 390.2M322 390H335L344 393.6M322 392H335L344 397M322 396H335L344 400.4M322 400H335L344 403.8M322 404H335L344 407.2M322 408H335L344 410.6M322 412H335L344 414M322 413H335L344 417.4M322 414H335L344 420.8M322 415H335L344 424.2M322 416H335L344 427.6M322 417H335L344 431M322 418H335L344 434.4M322 420H335L344 437.8M322 424H335L344 441.2M322 430H335L344 444.6M322 436H335L344 448M322 440H335L344 451.4M322 442H335L344 454.8M322 446H335L344 458.2M322 455H335L344 463.5"/>
<path class="cn" d="M395 352H408L417 350M395 354H408L417 353.4M395 356H408L417 356.8M395 358H408L417 360.2M395 360H408L417 363.6M395 362H408L417 367M395 365H408L417 370.4M395 368H408L417 373.8M395 372H408L417 377.2M395 375H408L417 380.6M395 378H408L417 384M395 382H408L417 387.4M395 386H408L417 390.8M395 389H408L417 394.2M395 392H408L417 397.6M395 402H408L417 409M395 418H408L417 418.5M395 420H408L417 419.8M395 435H408L417 437M395 455H408L417 443M395 458H408L417 462"/>
</g>

<g id="legend">
<circle class="b" cx="22" cy="526" r="3.5"/><text class="lg" x="34" y="529">Avr</text>
<circle class="g" cx="203" cy="526" r="3.5"/><text class="lg" x="215" y="529">SSR</text>
<circle class="r" cx="386" cy="526" r="3.5"/><text class="lg" x="398" y="529">PhytoSeq</text>
</g>
</svg>
